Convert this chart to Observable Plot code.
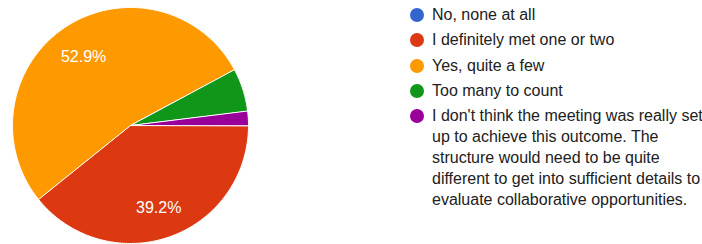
<!DOCTYPE html>
<html>
<head>
<meta charset="utf-8">
<script src="https://cdn.jsdelivr.net/npm/d3@7"></script>
<script src="https://cdn.jsdelivr.net/npm/@observablehq/plot@0.6"></script>
<style>
  html, body { margin: 0; padding: 0; background: #fff; }
  body { width: 702px; height: 244px; position: relative; overflow: hidden; font-family: "Liberation Sans", Arial, sans-serif; }
  #chart { position: absolute; left: 0; top: 0; }
  #legend { position: absolute; left: 410px; top: 4px; width: 297px; }
  .item { position: relative; padding-left: 22px; font-size: 16px; color: #212121; line-height: 21px; margin-bottom: 4.3px; }
  .dot { position: absolute; left: 0; top: 4px; width: 14px; height: 14px; border-radius: 50%; }
</style>
</head>
<body>
<div id="chart"></div>
<div id="legend"></div>
<script>
const categories = [
  "No, none at all",
  "I definitely met one or two",
  "Yes, quite a few",
  "Too many to count",
  "I don't think the meeting was really set up to achieve this outcome. The structure would need to be quite different to get into sufficient details to evaluate collaborative opportunities."
];
const counts = [0, 20, 27, 3, 1];
const colors = ["#3366cc", "#dc3912", "#ff9900", "#109618", "#990099"];

const total = d3.sum(counts);
const startAngle = Math.PI / 2; // slices begin at 3 o'clock, clockwise
const pie = d3.pie().sort(null).value(d => d.count)
  .startAngle(startAngle).endAngle(startAngle + 2 * Math.PI);
const rows = categories.map((c, i) => ({category: c, count: counts[i]}));
const arcs = pie(rows).filter(a => a.data.count > 0);

// polygon points for each slice (in unit-circle coordinates)
const pts = [];
for (const a of arcs) {
  pts.push({cat: a.data.category, x: 0, y: 0});
  const n = Math.max(2, Math.ceil((a.endAngle - a.startAngle) / (Math.PI / 180)));
  for (let k = 0; k <= n; k++) {
    const t = a.startAngle + (a.endAngle - a.startAngle) * k / n;
    pts.push({cat: a.data.category, x: Math.sin(t), y: Math.cos(t)});
  }
}
const labels = arcs.filter(a => a.data.count / total > 0.1).map(a => {
  const m = (a.startAngle + a.endAngle) / 2;
  return {x: 0.72 * Math.sin(m), y: 0.72 * Math.cos(m), text: (a.data.count / total * 100).toFixed(1) + "%"};
});

const chart = Plot.plot({
  width: 260,
  height: 244,
  marginLeft: 12,
  marginRight: 12,
  marginTop: 7,
  marginBottom: 1,
  x: {domain: [-1, 1], axis: null},
  y: {domain: [-1, 1], axis: null},
  color: {domain: categories, range: colors},
  style: {fontFamily: "'Liberation Sans', Arial, sans-serif", background: "white"},
  marks: [
    Plot.line(pts, {x: "x", y: "y", z: "cat", fill: "cat", stroke: "white", strokeWidth: 1, curve: "linear-closed"}),
    Plot.text(labels, {x: "x", y: "y", text: "text", fill: "white", fontSize: 16, dy: 2})
  ]
});
document.getElementById("chart").appendChild(chart);

const legend = document.getElementById("legend");
categories.forEach((c, i) => {
  const item = document.createElement("div");
  item.className = "item";
  const dot = document.createElement("span");
  dot.className = "dot";
  dot.style.background = colors[i];
  item.appendChild(dot);
  item.appendChild(document.createTextNode(c));
  legend.appendChild(item);
});
</script>
</body>
</html>
